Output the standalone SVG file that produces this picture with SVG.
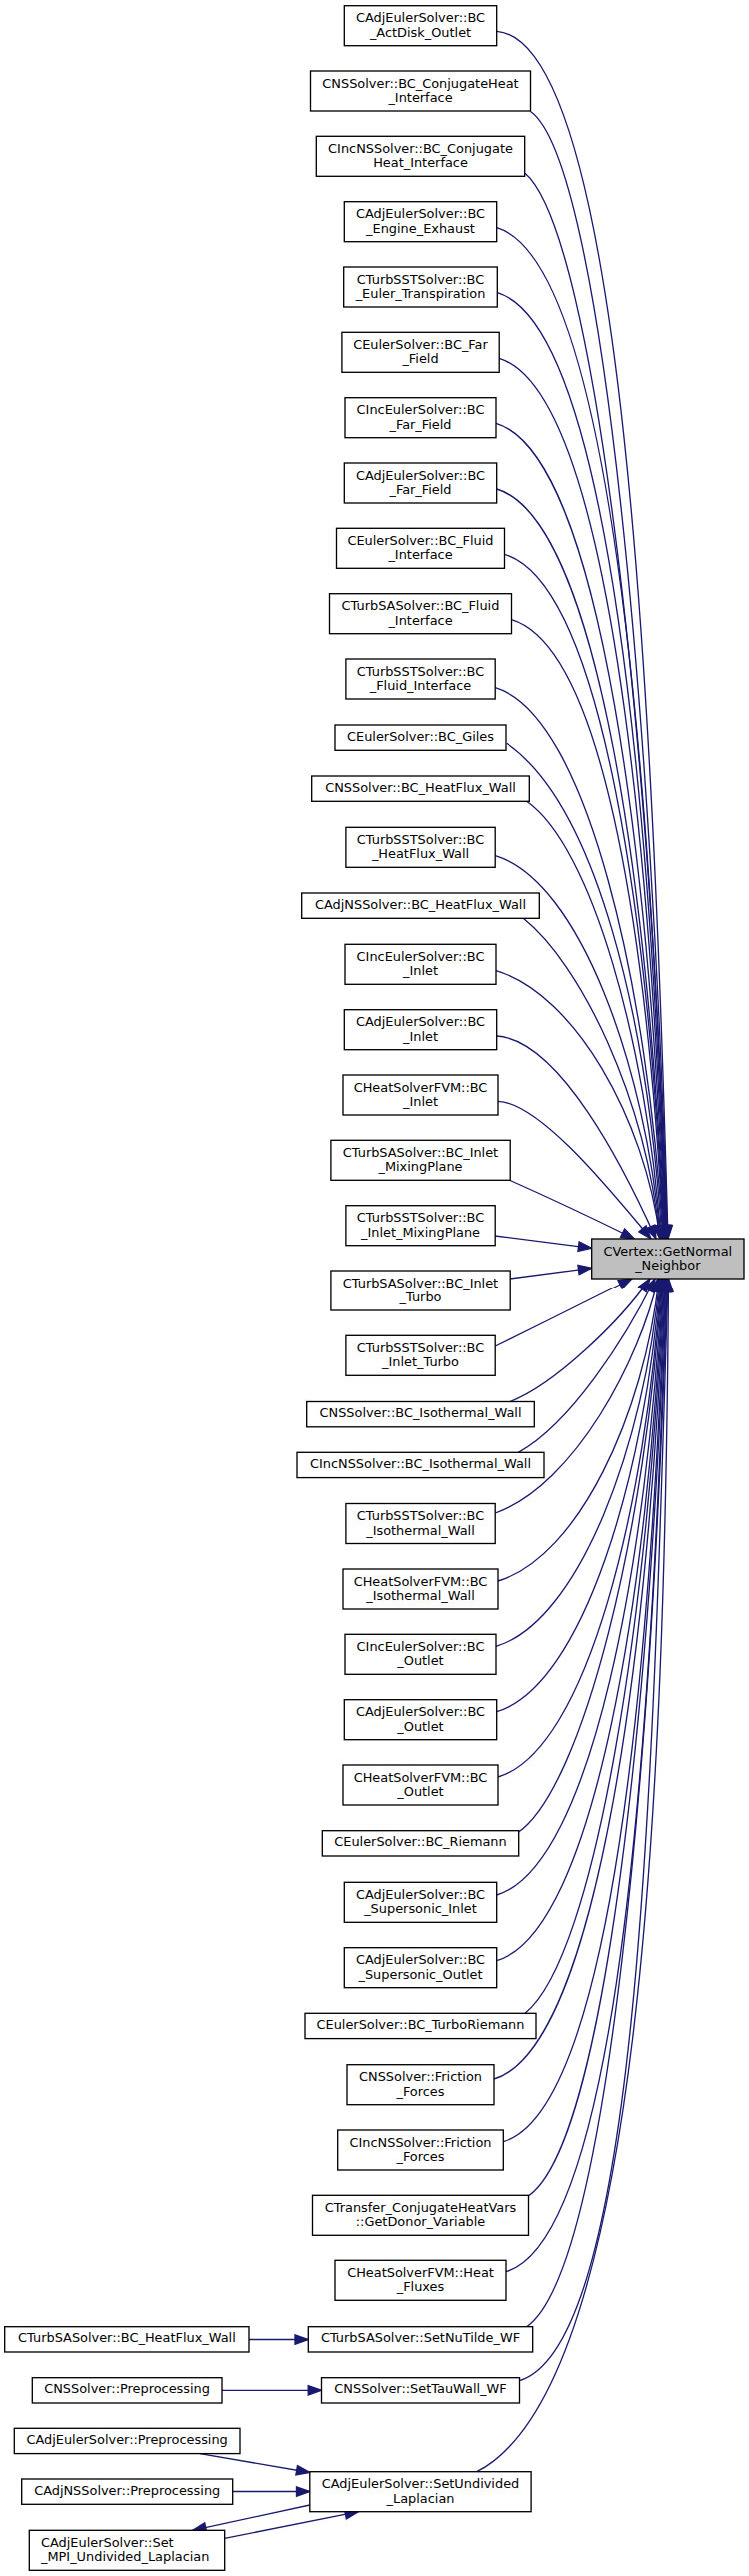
<svg xmlns="http://www.w3.org/2000/svg" width="749" height="2577" viewBox="0 0 749 2577">
<style>
.n rect{fill:#ffffff;stroke:#000000;stroke-width:1.33}
.n.root rect{fill:#bfbfbf}
text{font-family:"DejaVu Sans","Liberation Sans",sans-serif;font-size:12.9px;fill:#000000;text-anchor:middle}
text.l{text-anchor:start}
#edges path{fill:none;stroke:#191970;stroke-width:1.33;marker-end:url(#ah)}
</style>
<defs>
<marker id="ah" viewBox="0 0 13.3 9.4" refX="13.3" refY="4.7" markerWidth="13.3" markerHeight="9.4" markerUnits="userSpaceOnUse" orient="auto" overflow="visible"><path d="M0,0 L13.3,4.7 L0,9.4 z" fill="#191970" stroke="#191970" stroke-width="1.33"/></marker>
</defs>
<rect x="0" y="0" width="749" height="2577" fill="#ffffff"/>
<g id="edges">
<path d="M496.7,31.3 C622.1,41.3 653,695.5 668,1239"/>
<path d="M530.5,111.5 C603.3,162.5 652.5,731.6 667.5,1239"/>
<path d="M525,173.3 C596,233.6 652,759.4 667,1239"/>
<path d="M496.7,227.7 C612.3,262.4 651.5,784.1 666.5,1239"/>
<path d="M497.3,292.7 C609.6,326.4 651,813.2 666,1239"/>
<path d="M499,358.3 C608,391 650.5,842.7 665.5,1239"/>
<path d="M496,423.3 C601.8,455 650,871.9 665,1239"/>
<path d="M496.7,489 C599.2,519.8 649.5,901.5 664.5,1239"/>
<path d="M504.5,554.3 C603.7,584.1 649,930.9 664,1239"/>
<path d="M511.4,619.7 C607.4,648.5 648.5,960.3 663.5,1239"/>
<path d="M495.3,687.7 C587.9,715.5 648,990.9 663,1239"/>
<path d="M506.7,743.3 C596.5,806.2 647,1015.9 662,1239"/>
<path d="M526.7,801.3 C591.9,846.9 646,1042 661,1239"/>
<path d="M495.3,855.7 C579.5,881 645.5,1066.5 660.5,1239"/>
<path d="M523.3,918.3 C580,963.7 645,1094.7 660,1239"/>
<path d="M496,970.6 C574.4,994.1 645,1118.2 660,1239"/>
<path d="M496.7,1036 C560,1040 625,1170 656,1239"/>
<path d="M498,1101.3 C540,1103 610,1190 651,1239"/>
<path d="M509,1180 C545,1196 600,1222 634.5,1239"/>
<path d="M494.7,1236 L591.7,1248.3"/>
<path d="M510,1279 L591.7,1268.3"/>
<path d="M495.3,1347 C540,1325 600,1295 632,1279"/>
<path d="M510,1402.5 C555,1385 620,1322 650,1279"/>
<path d="M518.3,1453.3 C570,1425 625,1340 655,1279"/>
<path d="M495.3,1514 C575,1485 640,1360 658,1279"/>
<path d="M498,1582 C578.2,1557.9 644,1415.4 659,1279"/>
<path d="M496,1647.3 C579.4,1622.3 644.7,1444.7 659.7,1279"/>
<path d="M496.7,1712.7 C583.4,1686.7 645.4,1474.2 660.4,1279"/>
<path d="M498,1778 C588,1751 646.1,1503.6 661.1,1279"/>
<path d="M518.3,1833.3 C583.2,1787.9 646.8,1528.4 661.8,1279"/>
<path d="M496.7,1896 C592.6,1867.2 647.5,1556.7 662.5,1279"/>
<path d="M496.7,1961.7 C595.8,1932 648.2,1586.2 663.2,1279"/>
<path d="M525,2014.3 C596.3,1957.3 648.9,1609.9 663.9,1279"/>
<path d="M494,2080 C599,2048.5 649.6,1639.5 664.6,1279"/>
<path d="M503.3,2142.7 C611.5,2110.2 650.3,1667.7 665.3,1279"/>
<path d="M528.7,2196.7 C606.3,2142.4 651,1692 666,1279"/>
<path d="M506,2272.7 C620.7,2238.3 651.7,1726.2 666.7,1279"/>
<path d="M526.7,2327.7 C608.9,2270.2 652.4,1750.9 667.4,1279"/>
<path d="M519.3,2381.7 C639.4,2345.7 653,1775.2 668,1279"/>
<path d="M476.7,2472.7 C640,2390 665,1800 668.5,1279"/>
<path d="M249,2340.5 L308.3,2340.5"/>
<path d="M222,2391.3 L321.5,2391.3"/>
<path d="M200,2454.6 L309.8,2473.5"/>
<path d="M232.7,2492.5 L309.8,2492.5"/>
<path d="M309.8,2506 L192.7,2531.3"/>
<path d="M224.7,2539.3 L358.5,2512.7"/>
</g>
<g id="target" class="n root"><rect x="591.7" y="1239" width="152.3" height="40"/><text x="667.8" y="1255.6">CVertex::GetNormal</text><text x="667.8" y="1270">_Neighbor</text></g>
<g id="n1" class="n"><rect x="344.3" y="5.7" width="152.4" height="40"/><text x="420.5" y="22.3">CAdjEulerSolver::BC</text><text x="420.5" y="36.7">_ActDisk_Outlet</text></g>
<g id="n2" class="n"><rect x="310.5" y="71" width="220" height="40"/><text x="420.5" y="87.6">CNSSolver::BC_ConjugateHeat</text><text x="420.5" y="102">_Interface</text></g>
<g id="n3" class="n"><rect x="316.3" y="136.3" width="208.4" height="40"/><text x="420.5" y="152.9">CIncNSSolver::BC_Conjugate</text><text x="420.5" y="167.3">Heat_Interface</text></g>
<g id="n4" class="n"><rect x="344.3" y="201.7" width="152.4" height="40"/><text x="420.5" y="218.3">CAdjEulerSolver::BC</text><text x="420.5" y="232.7">_Engine_Exhaust</text></g>
<g id="n5" class="n"><rect x="343.7" y="267" width="153.6" height="40"/><text x="420.5" y="283.6">CTurbSSTSolver::BC</text><text x="420.5" y="298">_Euler_Transpiration</text></g>
<g id="n6" class="n"><rect x="341.9" y="332.3" width="157.3" height="40"/><text x="420.5" y="348.9">CEulerSolver::BC_Far</text><text x="420.5" y="363.3">_Field</text></g>
<g id="n7" class="n"><rect x="345" y="397.7" width="151" height="40"/><text x="420.5" y="414.3">CIncEulerSolver::BC</text><text x="420.5" y="428.7">_Far_Field</text></g>
<g id="n8" class="n"><rect x="344.3" y="463" width="152.4" height="40"/><text x="420.5" y="479.6">CAdjEulerSolver::BC</text><text x="420.5" y="494">_Far_Field</text></g>
<g id="n9" class="n"><rect x="336.5" y="528.3" width="168" height="40"/><text x="420.5" y="544.9">CEulerSolver::BC_Fluid</text><text x="420.5" y="559.3">_Interface</text></g>
<g id="n10" class="n"><rect x="329.5" y="593.7" width="182" height="40"/><text x="420.5" y="610.3">CTurbSASolver::BC_Fluid</text><text x="420.5" y="624.7">_Interface</text></g>
<g id="n11" class="n"><rect x="345.9" y="659" width="149.3" height="40"/><text x="420.5" y="675.6">CTurbSSTSolver::BC</text><text x="420.5" y="690">_Fluid_Interface</text></g>
<g id="n12" class="n"><rect x="335" y="725" width="171" height="25.3"/><text x="420.5" y="740.7">CEulerSolver::BC_Giles</text></g>
<g id="n13" class="n"><rect x="311.7" y="776" width="217.6" height="25.3"/><text x="420.5" y="791.7">CNSSolver::BC_HeatFlux_Wall</text></g>
<g id="n14" class="n"><rect x="345.9" y="827.3" width="149.3" height="40"/><text x="420.5" y="843.9">CTurbSSTSolver::BC</text><text x="420.5" y="858.3">_HeatFlux_Wall</text></g>
<g id="n15" class="n"><rect x="301.7" y="893" width="237.6" height="25.3"/><text x="420.5" y="908.7">CAdjNSSolver::BC_HeatFlux_Wall</text></g>
<g id="n16" class="n"><rect x="345" y="944.3" width="151" height="40"/><text x="420.5" y="960.9">CIncEulerSolver::BC</text><text x="420.5" y="975.3">_Inlet</text></g>
<g id="n17" class="n"><rect x="344.3" y="1009.7" width="152.4" height="40"/><text x="420.5" y="1026.3">CAdjEulerSolver::BC</text><text x="420.5" y="1040.7">_Inlet</text></g>
<g id="n18" class="n"><rect x="343" y="1075" width="155" height="40"/><text x="420.5" y="1091.6">CHeatSolverFVM::BC</text><text x="420.5" y="1106">_Inlet</text></g>
<g id="n19" class="n"><rect x="330.9" y="1140.3" width="179.3" height="40"/><text x="420.5" y="1156.9">CTurbSASolver::BC_Inlet</text><text x="420.5" y="1171.3">_MixingPlane</text></g>
<g id="n20" class="n"><rect x="345.9" y="1205.7" width="149.3" height="40"/><text x="420.5" y="1222.3">CTurbSSTSolver::BC</text><text x="420.5" y="1236.7">_Inlet_MixingPlane</text></g>
<g id="n21" class="n"><rect x="330.9" y="1271" width="179.3" height="40"/><text x="420.5" y="1287.6">CTurbSASolver::BC_Inlet</text><text x="420.5" y="1302">_Turbo</text></g>
<g id="n22" class="n"><rect x="345.9" y="1336.3" width="149.3" height="40"/><text x="420.5" y="1352.9">CTurbSSTSolver::BC</text><text x="420.5" y="1367.3">_Inlet_Turbo</text></g>
<g id="n23" class="n"><rect x="306.7" y="1402.5" width="227.6" height="25.3"/><text x="420.5" y="1418.2">CNSSolver::BC_Isothermal_Wall</text></g>
<g id="n24" class="n"><rect x="297" y="1453.3" width="247" height="25.3"/><text x="420.5" y="1469">CIncNSSolver::BC_Isothermal_Wall</text></g>
<g id="n25" class="n"><rect x="345.9" y="1504.5" width="149.3" height="40"/><text x="420.5" y="1521.1">CTurbSSTSolver::BC</text><text x="420.5" y="1535.5">_Isothermal_Wall</text></g>
<g id="n26" class="n"><rect x="343" y="1570" width="155" height="40"/><text x="420.5" y="1586.6">CHeatSolverFVM::BC</text><text x="420.5" y="1601">_Isothermal_Wall</text></g>
<g id="n27" class="n"><rect x="345" y="1635.3" width="151" height="40"/><text x="420.5" y="1651.9">CIncEulerSolver::BC</text><text x="420.5" y="1666.3">_Outlet</text></g>
<g id="n28" class="n"><rect x="344.3" y="1700.7" width="152.4" height="40"/><text x="420.5" y="1717.3">CAdjEulerSolver::BC</text><text x="420.5" y="1731.7">_Outlet</text></g>
<g id="n29" class="n"><rect x="343" y="1766" width="155" height="40"/><text x="420.5" y="1782.6">CHeatSolverFVM::BC</text><text x="420.5" y="1797">_Outlet</text></g>
<g id="n30" class="n"><rect x="322.3" y="1831.7" width="196.4" height="25.3"/><text x="420.5" y="1847.4">CEulerSolver::BC_Riemann</text></g>
<g id="n31" class="n"><rect x="344.3" y="1883.3" width="152.4" height="40"/><text x="420.5" y="1899.9">CAdjEulerSolver::BC</text><text x="420.5" y="1914.3">_Supersonic_Inlet</text></g>
<g id="n32" class="n"><rect x="344.3" y="1948.7" width="152.4" height="40"/><text x="420.5" y="1965.3">CAdjEulerSolver::BC</text><text x="420.5" y="1979.7">_Supersonic_Outlet</text></g>
<g id="n33" class="n"><rect x="305" y="2014.3" width="231" height="25.3"/><text x="420.5" y="2030">CEulerSolver::BC_TurboRiemann</text></g>
<g id="n34" class="n"><rect x="347" y="2065.7" width="147" height="40"/><text x="420.5" y="2082.3">CNSSolver::Friction</text><text x="420.5" y="2096.7">_Forces</text></g>
<g id="n35" class="n"><rect x="337.7" y="2131" width="165.6" height="40"/><text x="420.5" y="2147.6">CIncNSSolver::Friction</text><text x="420.5" y="2162">_Forces</text></g>
<g id="n36" class="n"><rect x="312.5" y="2196.3" width="216" height="40"/><text x="420.5" y="2212.9">CTransfer_ConjugateHeatVars</text><text x="420.5" y="2227.3">::GetDonor_Variable</text></g>
<g id="n37" class="n"><rect x="335" y="2261.3" width="171" height="40"/><text x="420.5" y="2277.9">CHeatSolverFVM::Heat</text><text x="420.5" y="2292.3">_Fluxes</text></g>
<g id="n38" class="n"><rect x="308.3" y="2327.7" width="224.4" height="25.3"/><text x="420.5" y="2343.4">CTurbSASolver::SetNuTilde_WF</text></g>
<g id="n39" class="n"><rect x="321.5" y="2378.7" width="198" height="25.3"/><text x="420.5" y="2394.4">CNSSolver::SetTauWall_WF</text></g>
<g id="n40" class="n"><rect x="309.8" y="2472.7" width="221.3" height="40"/><text x="420.5" y="2489.3">CAdjEulerSolver::SetUndivided</text><text x="420.5" y="2503.7">_Laplacian</text></g>
<g id="l1" class="n"><rect x="4.7" y="2327.7" width="244.3" height="25.3"/><text x="126.9" y="2343.4">CTurbSASolver::BC_HeatFlux_Wall</text></g>
<g id="l2" class="n"><rect x="32.3" y="2378.7" width="189.7" height="25.3"/><text x="127.1" y="2394.4">CNSSolver::Preprocessing</text></g>
<g id="l3" class="n"><rect x="14.3" y="2429.3" width="225.7" height="25.3"/><text x="127.1" y="2445">CAdjEulerSolver::Preprocessing</text></g>
<g id="l4" class="n"><rect x="21.7" y="2480" width="211" height="25.3"/><text x="127.2" y="2495.7">CAdjNSSolver::Preprocessing</text></g>
<g id="l5" class="n"><rect x="29.3" y="2531.3" width="195.4" height="40"/><text class="l" x="41" y="2547.9">CAdjEulerSolver::Set</text><text class="l" x="41" y="2562.3">_MPI_Undivided_Laplacian</text></g>
</svg>
